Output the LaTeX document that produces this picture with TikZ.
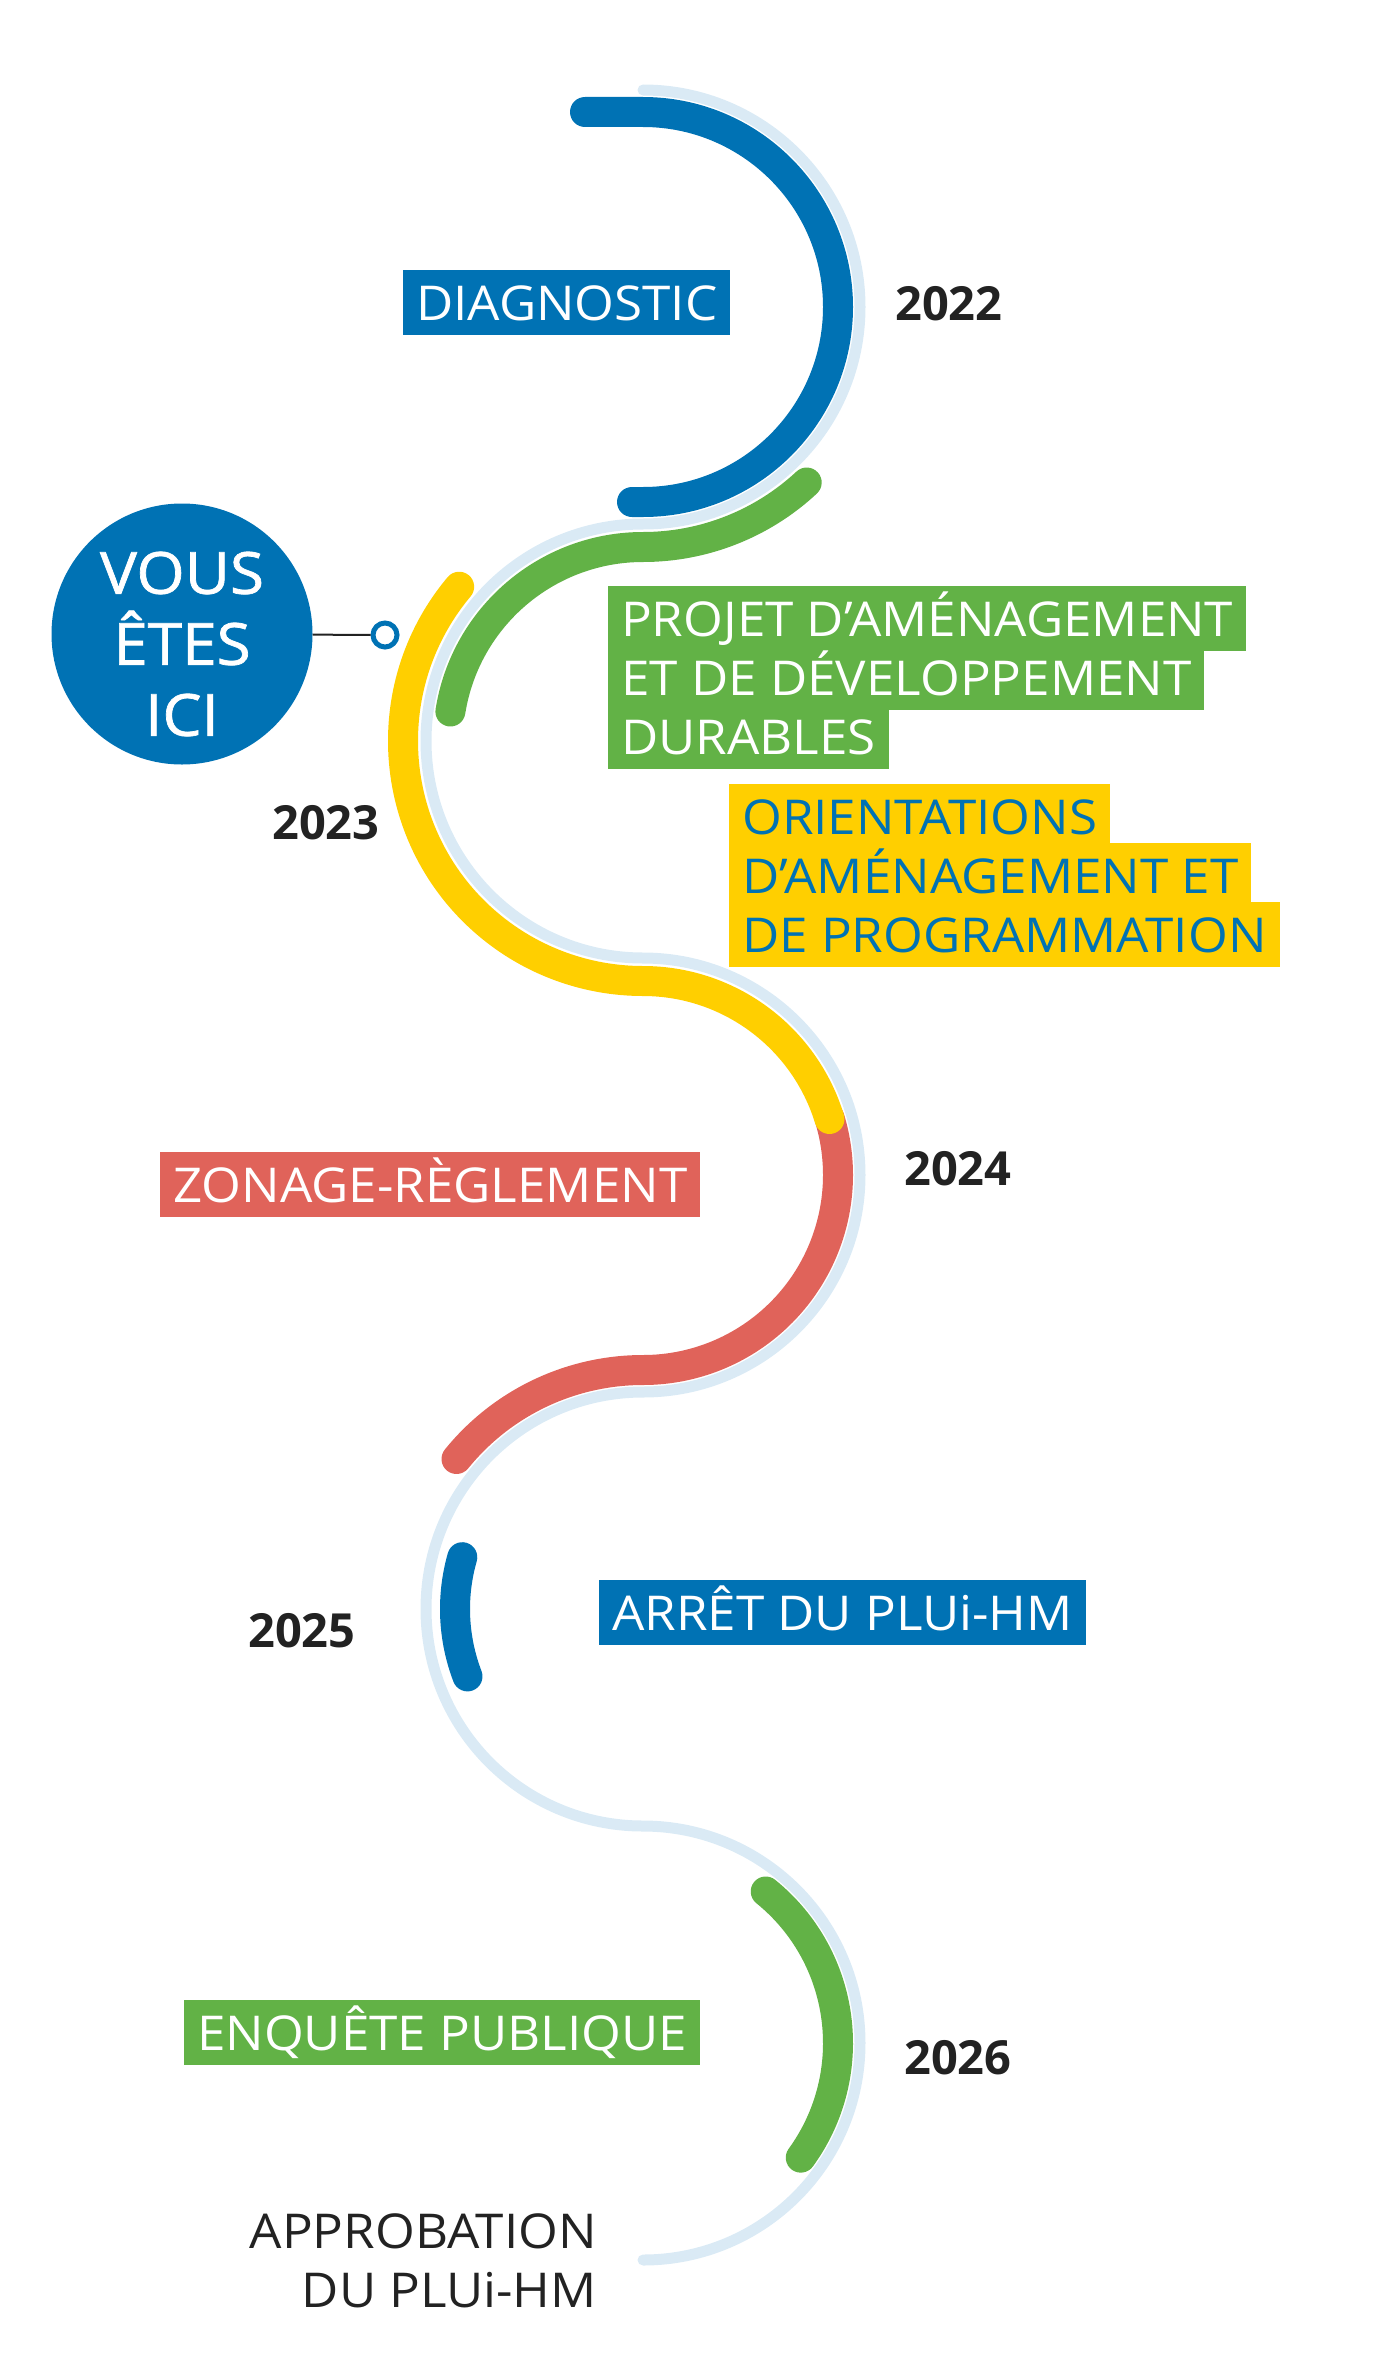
\documentclass[tikz,border=0pt]{standalone}
\usepackage{fontspec}
\setmainfont{Open Sans}
\usepackage{tikz}
\usetikzlibrary{positioning}

\definecolor{pluiblue}{RGB}{0,114,180}
\definecolor{pluigreen}{RGB}{98,178,70}
\definecolor{pluiyellow}{RGB}{255,207,0}
\definecolor{pluired}{RGB}{224,99,90}
\definecolor{pluitrack}{RGB}{218,234,245}
\definecolor{pluidark}{RGB}{34,34,34}

\newcommand{\phasefont}{\fontsize{48}{59}\selectfont\addfontfeature{FakeStretch=1.065}}
\newcommand{\yearfont}{\fontsize{47}{56}\selectfont\bfseries}
\newcommand{\herefont}{\fontsize{58}{71}\selectfont\addfontfeature{FakeStretch=1.07,FakeBold=1.2}}

\begin{document}
\begin{tikzpicture}[x=1pt, y=1pt,
    track/.style={draw=pluitrack, line width=11pt, line cap=round},
    phase/.style={line width=30pt, line cap=round},
    tag/.style={anchor=base west, font=\phasefont, text=white, inner xsep=13pt, inner ysep=0pt, text height=50pt, text depth=15pt},
    year/.style={anchor=base west, font=\yearfont, text=pluidark, inner sep=0pt}]
	\useasboundingbox (0,0) rectangle (1397,-2355);

	% the winding track
	\draw[track] (643,-90) arc[start angle=90, end angle=-90, radius=217]
		arc[start angle=90, end angle=270, radius=217]
		arc[start angle=90, end angle=-90, radius=217]
		arc[start angle=90, end angle=270, radius=217]
		arc[start angle=90, end angle=-90, radius=217];

	% phases along the track
	\draw[phase, pluiblue] (585,-112) -- (643,-112) arc[start angle=90, end angle=-90, radius=195] -- (632,-502);
	\draw[phase, pluigreen] ([shift={(-47:240)}]643,-307) arc[start angle=-47, end angle=-90, radius=240]
		arc[start angle=90, end angle=171, radius=195];
	\draw[phase, pluired] ([shift={(17:195)}]643,-1175) arc[start angle=17, end angle=-90, radius=195]
		arc[start angle=90, end angle=141, radius=240];
	\draw[phase, pluiyellow] ([shift={(140:240)}]643,-741) arc[start angle=140, end angle=270, radius=240]
		arc[start angle=90, end angle=17, radius=195];
	\draw[phase, pluiblue] ([shift={(164:188)}]643,-1609) arc[start angle=164, end angle=201, radius=188];
	\draw[phase, pluigreen] ([shift={(51:195)}]643,-2043) arc[start angle=51, end angle=-36, radius=195];

	% you are here
	\node[circle, fill=pluiblue, minimum size=261pt, inner sep=0pt] (here) at (182,-634) {};
	\node[font=\herefont, text=white, align=center, inner sep=0pt] (heretext) at ([yshift=-10]here.center) {VOUS\\ÊTES\\ICI};
	\node[circle, draw=pluiblue, line width=5pt, fill=white, minimum size=24pt, inner sep=0pt] (mark) at (385,-635) {};
	\draw[pluidark, line width=2pt] (here) -- (mark);

	% labels
	\node[tag, fill=pluiblue] (diag) at (403,-320) {DIAGNOSTIC};
	\node[tag, fill=pluigreen] (padd1) at (608,-636) {PROJET D’AMÉNAGEMENT};
	\node[tag, fill=pluigreen] (padd2) at ([yshift=-59]padd1.base west) {ET DE DÉVELOPPEMENT};
	\node[tag, fill=pluigreen] (padd3) at ([yshift=-59]padd2.base west) {DURABLES};
	\node[tag, fill=pluiyellow, text=pluiblue] (oap1) at (729,-834) {ORIENTATIONS};
	\node[tag, fill=pluiyellow, text=pluiblue] (oap2) at ([yshift=-59]oap1.base west) {D’AMÉNAGEMENT ET};
	\node[tag, fill=pluiyellow, text=pluiblue] (oap3) at ([yshift=-59]oap2.base west) {DE PROGRAMMATION};
	\node[tag, fill=pluired] (zonage) at (160,-1202) {ZONAGE-RÈGLEMENT};
	\node[tag, fill=pluiblue] (arret) at (599,-1630) {ARRÊT DU PLUi-HM};
	\node[tag, fill=pluigreen] (enquete) at (184,-2050) {ENQUÊTE PUBLIQUE};
	\node[anchor=base east, font=\phasefont, text=pluidark, inner sep=0pt] (appro1) at (597,-2248) {APPROBATION};
	\node[anchor=base east, font=\phasefont, text=pluidark, inner sep=0pt] (appro2) at ([yshift=-59]appro1.base east) {DU PLUi-HM};

	% years
	\node[year] (y2022) at (895,-320) {2022};
	\node[year] (y2023) at (272,-839) {2023};
	\node[year] (y2024) at (904,-1185) {2024};
	\node[year] (y2025) at (248,-1647) {2025};
	\node[year] (y2026) at (904,-2074) {2026};
\end{tikzpicture}
\end{document}
